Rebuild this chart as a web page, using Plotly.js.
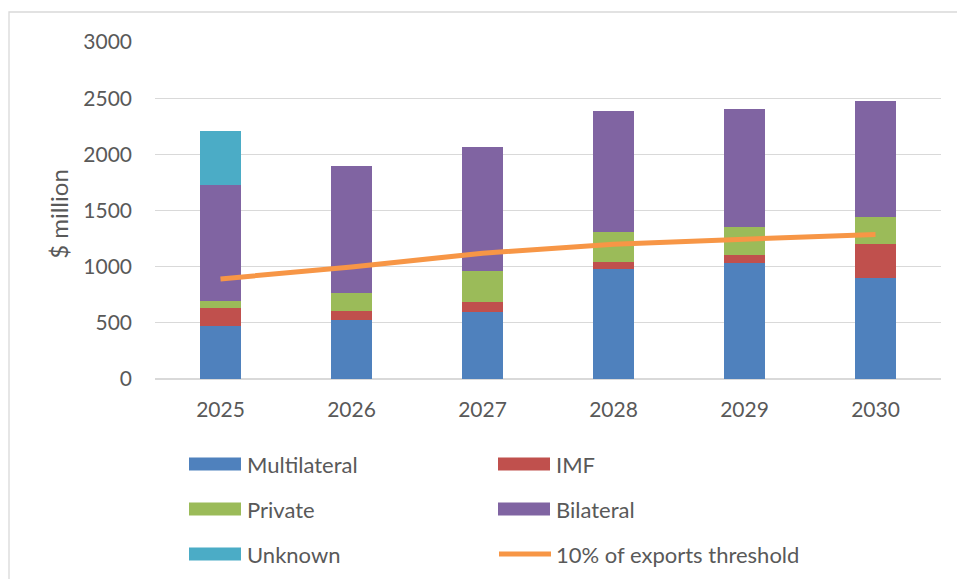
<!DOCTYPE html>
<html>
<head>
<meta charset="utf-8">
<script src="https://cdn.plot.ly/plotly-3.0.1.min.js"></script>
<style>
  html, body { margin: 0; padding: 0; background: #ffffff; }
  #chart { width: 957px; height: 579px; }
</style>
</head>
<body>
<div id="chart"></div>
<script>
// ---- Data ----
const years = ['2025', '2026', '2027', '2028', '2029', '2030'];
const multilateral = [476, 529, 600, 980, 1031, 897];
const imf = [157, 74, 86, 60, 71, 303];
const privateDebt = [59, 167, 277, 265, 253, 241];
const bilateral = [1034, 1128, 1102, 1078, 1052, 1031];
const unknown = [481, 0, 0, 0, 0, 0];
const threshold = [891, 998, 1120, 1200, 1245, 1287];

const seriesNames = ['Multilateral', 'IMF', 'Private', 'Bilateral', 'Unknown'];
const seriesValues = [multilateral, imf, privateDebt, bilateral, unknown];
const seriesColors = ['#4F81BD', '#C0504D', '#9BBB59', '#8064A2', '#4BACC6'];
const lineName = '10% of exports threshold';
const lineColor = '#F79646';

const textColor = '#595959';
const fontFamily = 'Lato, "Open Sans", sans-serif';

// ---- Traces ----
const traces = seriesNames.map((name, i) => ({
  type: 'bar',
  name: name,
  x: years,
  y: seriesValues[i],
  marker: { color: seriesColors[i], line: { width: 0 } },
  showlegend: false,
  hoverinfo: 'x+y+name'
}));
traces.push({
  type: 'scatter',
  mode: 'lines',
  name: lineName,
  x: years,
  y: threshold,
  line: { color: lineColor, width: 5 },
  showlegend: false
});

// ---- Layout geometry (pixels) ----
const W = 957, H = 579;
const mL = 155, mR = 16, mT = 42, mB = 200;
const plotW = W - mL - mR, plotH = H - mT - mB;
const px2x = px => (px - mL) / plotW;
const py2y = py => (H - mB - py) / plotH;

// ---- Custom legend (two columns, three rows) ----
const legendNames = seriesNames.concat([lineName]);
const legendColors = seriesColors.concat([lineColor]);
const colSwatchX = [189, 498];
const rowCenterY = [464, 509, 554];
const shapes = [];
const annotations = [];
legendNames.forEach((name, i) => {
  const col = i % 2, row = Math.floor(i / 2);
  const sx0 = colSwatchX[col], sx1 = sx0 + 52;
  const cy = rowCenterY[row];
  if (i < seriesNames.length) {
    shapes.push({
      type: 'rect', xref: 'paper', yref: 'paper',
      x0: px2x(sx0), x1: px2x(sx1), y0: py2y(cy + 6.5), y1: py2y(cy - 6.5),
      fillcolor: legendColors[i], line: { width: 0 }
    });
  } else {
    shapes.push({
      type: 'line', xref: 'paper', yref: 'paper',
      x0: px2x(sx0 + 1), x1: px2x(sx1 + 1), y0: py2y(cy), y1: py2y(cy),
      line: { color: legendColors[i], width: 5 }
    });
  }
  annotations.push({
    xref: 'paper', yref: 'paper',
    x: px2x(sx1 + 4), y: py2y(cy),
    xanchor: 'left', yanchor: 'middle',
    text: name, showarrow: false,
    font: { family: fontFamily, size: 22, color: textColor }
  });
});

// Chart-area border
shapes.push({
  type: 'rect', xref: 'paper', yref: 'paper', layer: 'below',
  x0: px2x(9), x1: px2x(970), y0: py2y(600), y1: py2y(12),
  line: { color: '#D9D9D9', width: 1.3 }, fillcolor: 'rgba(0,0,0,0)'
});

// Y-axis title
annotations.push({
  xref: 'paper', yref: 'paper',
  x: px2x(59), y: 0.49,
  xanchor: 'center', yanchor: 'middle',
  text: '$ million', textangle: -90, showarrow: false,
  font: { family: fontFamily, size: 24, color: textColor }
});

const layout = {
  width: W, height: H,
  margin: { l: mL, r: mR, t: mT, b: mB, pad: 0 },
  paper_bgcolor: '#ffffff',
  plot_bgcolor: '#ffffff',
  barmode: 'stack',
  bargap: 0.687,
  showlegend: false,
  font: { family: fontFamily, size: 20, color: textColor },
  xaxis: {
    type: 'category',
    showgrid: false,
    showline: false,
    zeroline: false,
    ticks: '',
    ticklabelstandoff: 16,
    tickfont: { family: fontFamily, size: 21, color: textColor },
    fixedrange: true
  },
  yaxis: {
    range: [0, 3000],
    tickvals: [0, 500, 1000, 1500, 2000, 2500, 3000],
    ticktext: ['0', '500', '1000', '1500', '2000', '2500', '3000'],
    showgrid: true,
    gridcolor: '#D9D9D9',
    gridwidth: 1.3,
    zeroline: true,
    zerolinecolor: '#D9D9D9',
    zerolinewidth: 1.3,
    showline: false,
    ticks: '',
    ticklabelstandoff: 22,
    tickfont: { family: fontFamily, size: 21, color: textColor },
    fixedrange: true
  },
  shapes: shapes,
  annotations: annotations
};

Plotly.newPlot('chart', traces, layout, { displayModeBar: false, staticPlot: true });
</script>
</body>
</html>
